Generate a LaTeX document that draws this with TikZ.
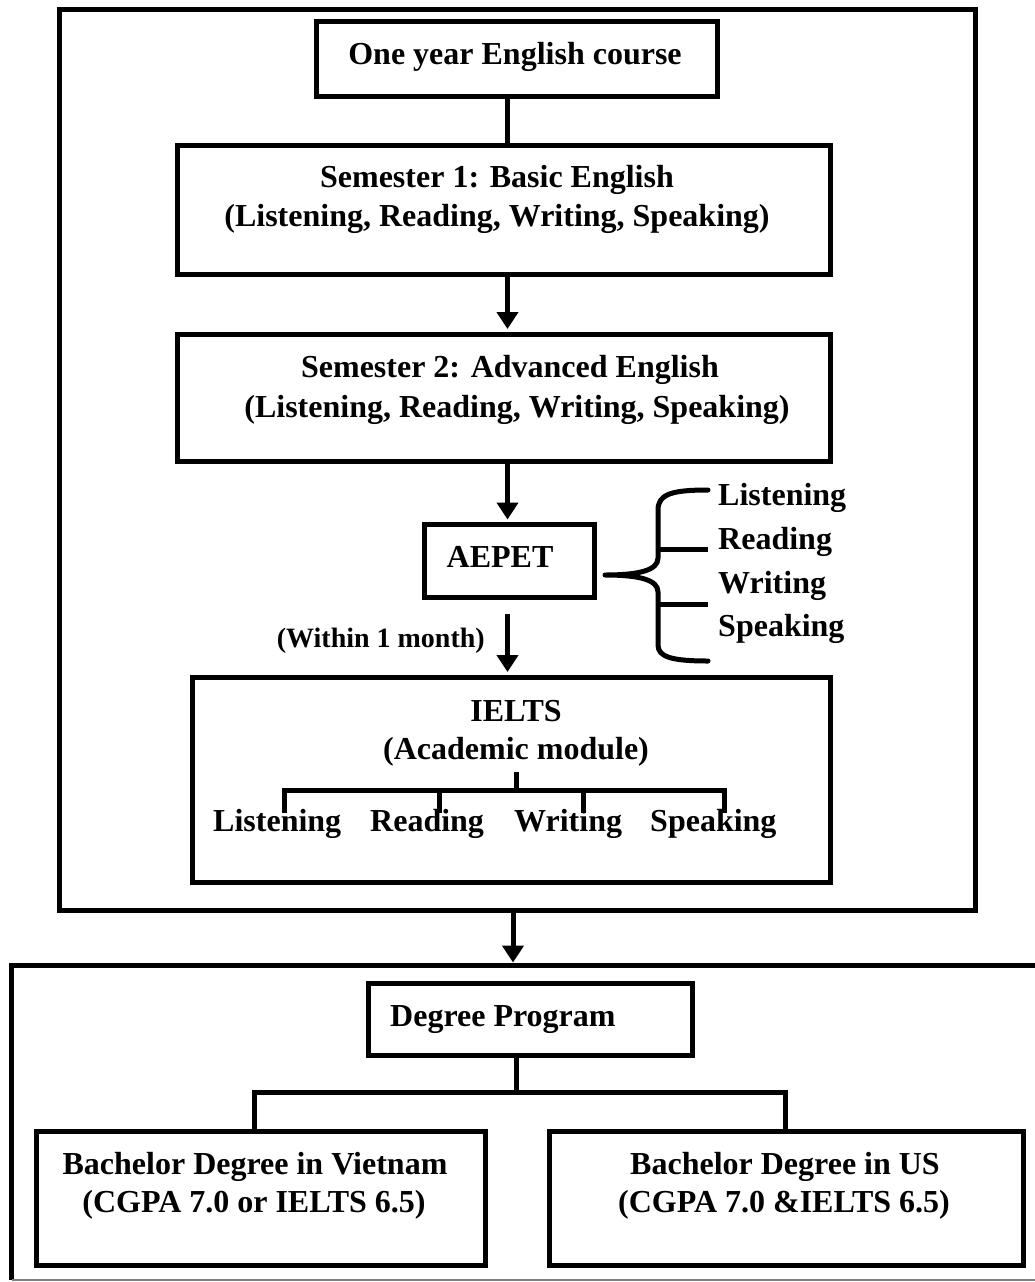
\documentclass[tikz,border=0pt]{standalone}
\usepackage{fontspec}
\setmainfont{Liberation Serif}
\usetikzlibrary{arrows.meta,calc}
\begin{document}
\begin{tikzpicture}[x=1pt,y=-1pt,
  box/.style={draw,line width=5pt,inner sep=0pt,rectangle},
  lbl/.style={anchor=base,inner sep=0pt,font=\bfseries\fontsize{32}{40}\selectfont},
  small/.style={anchor=base east,inner sep=0pt,font=\bfseries\fontsize{28}{34}\selectfont},
  conn/.style={line width=5pt},
  arr/.style={line width=5pt,-{Triangle[length=17pt,width=21pt]},shorten >=2.5pt},
]
\useasboundingbox (0,0) rectangle (1035,1282);
\fill[white] (0,0) rectangle (1035,1282);

% boxes
\node[box,minimum width=916pt,minimum height=900.5pt] (outer) at (517.5,459.75) {};
\node[box,minimum width=401pt,minimum height=75pt] (oneyear) at (516.5,59) {};
\node[box,minimum width=653pt,minimum height=128.5pt] (sem1) at (503.5,209.75) {};
\node[box,minimum width=653pt,minimum height=127.5pt] (sem2) at (503.5,397.75) {};
\node[box,minimum width=170pt,minimum height=73pt] (aepet) at (509.5,561) {};
\node[box,minimum width=638pt,minimum height=205pt] (ielts) at (511,779.5) {};
\node[box,minimum width=324pt,minimum height=72pt] (degree) at (530,1019.5) {};
\node[box,minimum width=449pt,minimum height=134pt] (bachL) at (260.5,1198) {};
\node[box,minimum width=473.5pt,minimum height=134pt] (bachR) at (786.25,1198) {};

% lower open frame
\coordinate (frameTL) at (11.5,965);
\coordinate (frameTR) at (1035,965);
\coordinate (frameBL) at (11.5,1280);
\coordinate (frameBR) at (1035,1280);
\draw[conn] (frameTR) -- (frameTL) -- (frameBL);
\draw[gray,line width=1.5pt] (frameBL) -- (frameBR);

% texts
\node[lbl] (tOne) at (515,64) {One year English course};
\node[lbl] (tS1a) at (497,187) {Semester 1: Basic English};
\node[lbl] (tS1b) at (497,226) {(Listening, Reading, Writing, Speaking)};
\node[lbl] (tS2a) at (510,377) {Semester 2: Advanced English};
\node[lbl] (tS2b) at (517,417) {(Listening, Reading, Writing, Speaking)};
\node[lbl] (tAE) at (500,567) {AEPET};
\node[small] (tWithin) at (485,647) {(Within 1 month)};
\node[lbl,anchor=base west] (bL) at (718,505) {Listening};
\node[lbl,anchor=base west] (bR) at (718,549) {Reading};
\node[lbl,anchor=base west] (bW) at (718,593) {Writing};
\node[lbl,anchor=base west] (bS) at (718,636) {Speaking};
\node[lbl] (tIE) at (516,721) {IELTS};
\node[lbl] (tAc) at (516,759) {(Academic module)};
\node[lbl,anchor=base west] (iL) at (213,831) {Listening};
\node[lbl,anchor=base west] (iR) at (370,831) {Reading};
\node[lbl,anchor=base west] (iW) at (514,831) {Writing};
\node[lbl,anchor=base west] (iS) at (650,831) {Speaking};
\node[lbl,anchor=base west] (tDeg) at (390,1026) {Degree Program};
\node[lbl] (tBLa) at (255,1174) {Bachelor Degree in Vietnam};
\node[lbl] (tBLb) at (254,1212) {(CGPA 7.0 or IELTS 6.5)};
\node[lbl] (tBRa) at (785,1174) {Bachelor Degree in US};
\node[lbl] (tBRb) at (784,1212) {(CGPA 7.0 \&IELTS 6.5)};

% connectors
\coordinate (cx) at (507.5,0);
\draw[conn] (oneyear.south -| cx) -- (sem1.north -| cx);
\draw[arr] (sem1.south -| cx) -- (sem2.north -| cx);
\draw[arr] (sem2.south -| cx) -- (aepet.north -| cx);
\draw[arr,shorten <=14pt] (aepet.south -| cx) -- (ielts.north -| cx);
\coordinate (ax) at (513,0);
\draw[arr] (outer.south -| ax) -- (frameTL -| ax);

% brace
\coordinate (brTop) at (708,490);
\coordinate (brTip) at (605,575);
\coordinate (brBot) at (708,661);
\draw[conn,line cap=round,line join=round] (brTop) .. controls (672,490) and (658,494) .. (658,510)
  -- (658,558) .. controls (658,570) and (640,575) .. (brTip)
  .. controls (640,575) and (658,580) .. (658,592)
  -- (658,645) .. controls (658,657) and (672,661) .. (brBot);
\coordinate (tk1a) at (658,549); \coordinate (tk1b) at (708,549);
\coordinate (tk2a) at (658,604); \coordinate (tk2b) at (708,604);
\draw[conn] (tk1a) -- (tk1b);
\draw[conn] (tk2a) -- (tk2b);

% IELTS tree
\coordinate (is0) at (516,772);
\coordinate (is1) at (516,790);
\coordinate (ib1) at (284,790); \coordinate (ib2) at (439,790);
\coordinate (ib3) at (583,790); \coordinate (ib4) at (724,790);
\draw[conn] (is0) -- (is1);
\draw[conn] (ib1 |- 0,813) -- (ib1) -- (ib4) -- (ib4 |- 0,813);
\draw[conn] (ib2) -- (ib2 |- 0,813);
\draw[conn] (ib3) -- (ib3 |- 0,813);

% Degree tree
\coordinate (dx) at (516,1092);
\coordinate (dl) at (254.5,1092);
\coordinate (dr) at (785,1092);
\draw[conn] (degree.south -| dx) -- (dx);
\draw[conn] (bachL.north -| dl) -- (dl) -- (dr) -- (bachR.north -| dr);
\end{tikzpicture}
\end{document}
